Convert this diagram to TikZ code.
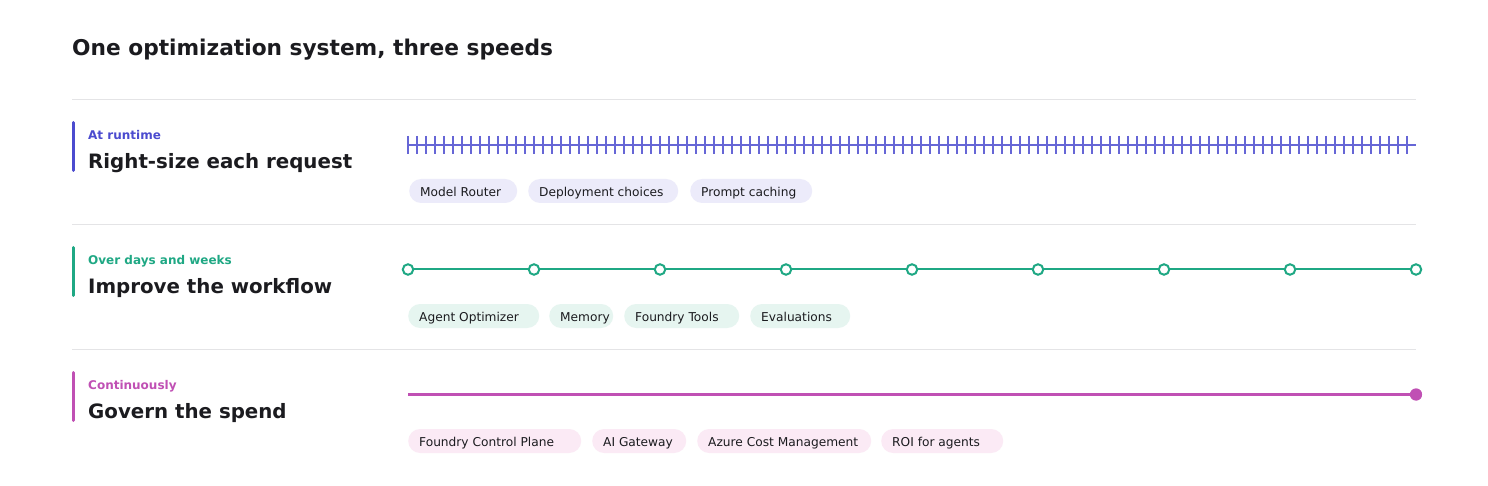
\documentclass[tikz,border=0pt]{standalone}
\usepackage{fontspec}
\setmainfont{DejaVu Sans}
\definecolor{ink}{HTML}{1B1B1F}
\definecolor{sep}{HTML}{E4E4E6}
\definecolor{cblue}{HTML}{4B4BCF}
\definecolor{cgreen}{HTML}{1FA884}
\definecolor{cpink}{HTML}{C050B4}
\definecolor{pblue}{HTML}{ECEBFA}
\definecolor{pgreen}{HTML}{E6F5F0}
\definecolor{ppink}{HTML}{FBEAF5}
\tikzset{
  titletxt/.style={anchor=base west, inner sep=0, text=ink, font=\fontsize{21.7}{26}\selectfont\bfseries},
  rowtitle/.style={anchor=base west, inner sep=0, text=ink, font=\fontsize{19.8}{24}\selectfont\bfseries},
  rowlabel/.style={anchor=base west, inner sep=0, font=\fontsize{12}{14}\selectfont\bfseries},
  pill/.style={anchor=west, rounded corners=12pt, inner xsep=11pt, inner ysep=0pt, minimum height=24pt,
     text height=11pt, text depth=0pt, text=ink, font=\fontsize{12.2}{14}\selectfont},
  sepline/.style={draw=sep, line width=1pt},
  accent/.style={line width=3pt, line cap=round},
  ring/.style={circle, draw=cgreen, fill=white, line width=2pt, minimum size=10.5pt, inner sep=0pt},
  dotend/.style={circle, fill=cpink, minimum size=12pt, inner sep=0pt},
  greenline/.style={draw=cgreen, line width=2pt},
}
\newcommand{\pillnode}[6]{\node[pill, fill=#1] (#2) at (#3,#4) {\makebox[#5pt][l]{#6}};}
\begin{document}
\begin{tikzpicture}[x=1pt,y=-1pt]
\useasboundingbox[fill=white] (0,0) rectangle (1488,486);

\node[titletxt] (title) at (72,56) {One optimization system, three speeds};

% separators
\coordinate (s1a) at (72,99.5); \coordinate (s1b) at (1416,99.5);
\coordinate (s2a) at (72,224.5); \coordinate (s2b) at (1416,224.5);
\coordinate (s3a) at (72,349.5); \coordinate (s3b) at (1416,349.5);
\draw[sepline] (s1a) -- (s1b);
\draw[sepline] (s2a) -- (s2b);
\draw[sepline] (s3a) -- (s3b);

% Row 1
\draw[accent, draw=cblue] (73.5,122.5) -- (73.5,170.5);
\node[rowlabel, text=cblue] (l1) at (88,139.5) {At runtime};
\node[rowtitle] (t1) at (88,168.8) {Right-size each request};
\coordinate (b0) at (408,145); \coordinate (b1) at (1416,145);
\draw[cblue!85, line width=1.3pt] (b0) -- (b1);
\foreach \i in {0,...,111}{
  \draw[cblue!85, line width=1.3pt] (408+\i*9,136) -- (408+\i*9,154);
}
\pillnode{pblue}{p11}{409}{191}{86}{Model Router}
\pillnode{pblue}{p12}{528}{191}{128}{Deployment choices}
\pillnode{pblue}{p13}{690}{191}{100}{Prompt caching}

% Row 2
\draw[accent, draw=cgreen] (73.5,247.5) -- (73.5,295.5);
\node[rowlabel, text=cgreen] (l2) at (88,264.5) {Over days and weeks};
\node[rowtitle] (t2) at (88,293.8) {Improve the workflow};
\foreach \i in {0,...,8}{
  \node[ring] (c\i) at (408+\i*126,269.5) {};
}
\draw[greenline] (c0) -- (c1);
\draw[greenline] (c1) -- (c2);
\draw[greenline] (c2) -- (c3);
\draw[greenline] (c3) -- (c4);
\draw[greenline] (c4) -- (c5);
\draw[greenline] (c5) -- (c6);
\draw[greenline] (c6) -- (c7);
\draw[greenline] (c7) -- (c8);
\pillnode{pgreen}{p21}{408}{316}{109}{Agent Optimizer}
\pillnode{pgreen}{p22}{549}{316}{42}{Memory}
\pillnode{pgreen}{p23}{624}{316}{93}{Foundry Tools}
\pillnode{pgreen}{p24}{750}{316}{78}{Evaluations}

% Row 3
\draw[accent, draw=cpink] (73.5,372.5) -- (73.5,420.5);
\node[rowlabel, text=cpink] (l3) at (88,389.5) {Continuously};
\node[rowtitle] (t3) at (88,418.5) {Govern the spend};
\coordinate (m0) at (408,394.5);
\node[dotend] (m1) at (1416,394.5) {};
\draw[cpink, line width=3pt] (m0) -- (m1.center);
\node[dotend] at (m1) {};
\pillnode{ppink}{p31}{408}{441}{151}{Foundry Control Plane}
\pillnode{ppink}{p32}{592}{441}{72}{AI Gateway}
\pillnode{ppink}{p33}{697}{441}{152}{Azure Cost Management}
\pillnode{ppink}{p34}{881}{441}{100}{ROI for agents}
\end{tikzpicture}
\end{document}
